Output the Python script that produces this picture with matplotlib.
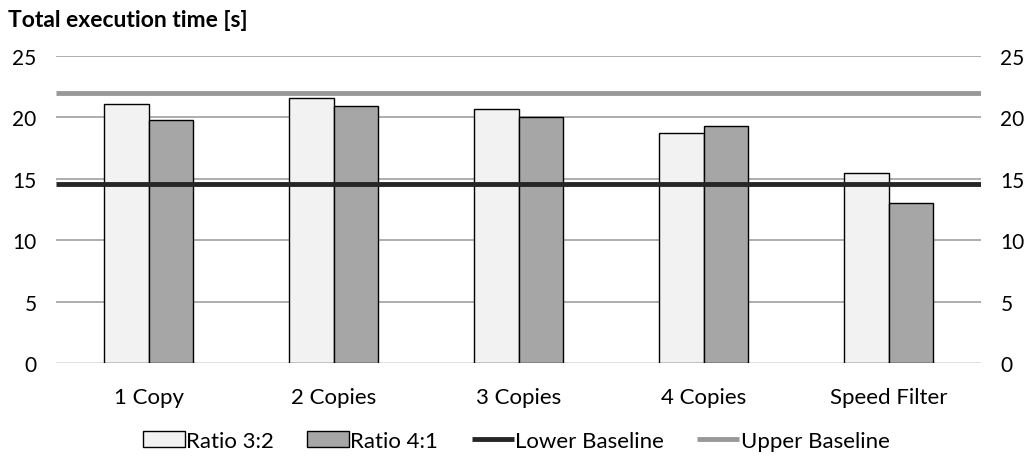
import matplotlib.pyplot as plt
import numpy as np

plt.rcParams['font.family'] = ['Lato', 'DejaVu Sans']

categories = ['1 Copy', '2 Copies', '3 Copies', '4 Copies', 'Speed Filter']
ratio_32 = [21.05, 21.6, 20.7, 18.7, 15.45]
ratio_41 = [19.75, 20.9, 20.0, 19.3, 13.0]
lower_baseline = 14.55
upper_baseline = 21.95
yticks = [0, 5, 10, 15, 20, 25]

fig = plt.figure(figsize=(10.32, 4.6), dpi=100)
ax = fig.add_axes([0.0543, 0.208, 0.8963, 0.6687])

x = np.arange(len(categories))
w = 0.24
b1 = ax.bar(x - w / 2, ratio_32, w, color='#f2f2f2', edgecolor='black',
            linewidth=1, label='Ratio 3:2', zorder=3)
b2 = ax.bar(x + w / 2, ratio_41, w, color='#a6a6a6', edgecolor='black',
            linewidth=1, label='Ratio 4:1', zorder=3)

xl = [-0.5, len(categories) - 0.5]
l1, = ax.plot(xl, [lower_baseline] * 2, color='#262626', lw=3.5,
              label='Lower Baseline', zorder=4, solid_capstyle='butt')
l2, = ax.plot(xl, [upper_baseline] * 2, color='#999999', lw=3.5,
              label='Upper Baseline', zorder=4, solid_capstyle='butt')

ax.set_xlim(xl)
ax.set_ylim(0, 25)
ax.set_yticks(yticks)
ax.set_xticks(x)
ax.set_xticklabels(categories)
ax.tick_params(axis='y', length=0, labelsize=15, pad=14)
ax.tick_params(axis='x', length=0, labelsize=16, pad=17)
for v in yticks[1:]:
    ax.axhline(v, color='#a0a0a0', lw=1.2, zorder=1)
ax.axhline(0, color='#d9d9d9', lw=1.2, zorder=1)
for s in ax.spines.values():
    s.set_visible(False)

ax2 = ax.twinx()
ax2.set_ylim(0, 25)
ax2.set_yticks(yticks)
ax2.tick_params(axis='y', length=0, labelsize=15, pad=14)
for s in ax2.spines.values():
    s.set_visible(False)

fig.text(0.008, 0.955, 'Total execution time [s]', fontsize=16.5,
         fontweight='bold', va='center', ha='left')

fig.legend(handles=[b1, b2, l1, l2], loc='center', bbox_to_anchor=(0.5, 0.04),
           ncol=4, frameon=False, fontsize=16, handlelength=1.9,
           handleheight=0.75, handletextpad=0.05, columnspacing=1.5)

fig.savefig('out.png', dpi=100)
